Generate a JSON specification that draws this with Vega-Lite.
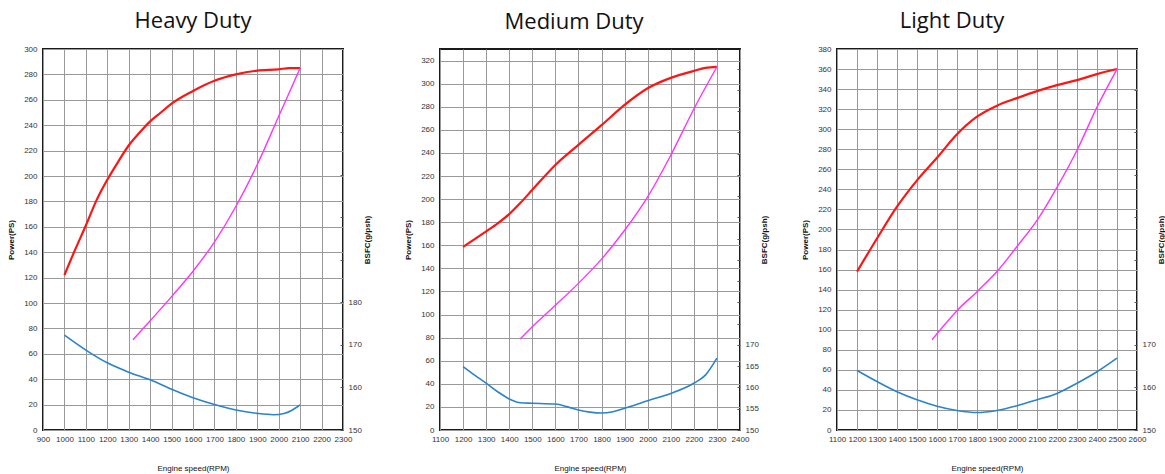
{
  "$schema": "https://vega.github.io/schema/vega-lite/v6.json",
  "padding": {"left": 6, "top": 9, "right": 2, "bottom": 2},
  "background": "white",
  "datasets": {
    "heavy": [
      {"rpm": 1000, "series": "Power", "ps": 122},
      {"rpm": 1050, "series": "Power", "ps": 142},
      {"rpm": 1100, "series": "Power", "ps": 161},
      {"rpm": 1150, "series": "Power", "ps": 181},
      {"rpm": 1200, "series": "Power", "ps": 197},
      {"rpm": 1250, "series": "Power", "ps": 211},
      {"rpm": 1300, "series": "Power", "ps": 224},
      {"rpm": 1350, "series": "Power", "ps": 234},
      {"rpm": 1400, "series": "Power", "ps": 243},
      {"rpm": 1450, "series": "Power", "ps": 250},
      {"rpm": 1500, "series": "Power", "ps": 257},
      {"rpm": 1600, "series": "Power", "ps": 267},
      {"rpm": 1700, "series": "Power", "ps": 275},
      {"rpm": 1800, "series": "Power", "ps": 280},
      {"rpm": 1900, "series": "Power", "ps": 283},
      {"rpm": 2000, "series": "Power", "ps": 284},
      {"rpm": 2050, "series": "Power", "ps": 285},
      {"rpm": 2100, "series": "Power", "ps": 285},
      {"rpm": 1320, "series": "Propeller", "ps": 71},
      {"rpm": 1400, "series": "Propeller", "ps": 86},
      {"rpm": 1500, "series": "Propeller", "ps": 105},
      {"rpm": 1600, "series": "Propeller", "ps": 125},
      {"rpm": 1700, "series": "Propeller", "ps": 148},
      {"rpm": 1800, "series": "Propeller", "ps": 176},
      {"rpm": 1900, "series": "Propeller", "ps": 209},
      {"rpm": 2000, "series": "Propeller", "ps": 247},
      {"rpm": 2050, "series": "Propeller", "ps": 266},
      {"rpm": 2100, "series": "Propeller", "ps": 285},
      {"rpm": 1000, "series": "BSFC", "bsfc": 172.3},
      {"rpm": 1100, "series": "BSFC", "bsfc": 168.8},
      {"rpm": 1200, "series": "BSFC", "bsfc": 165.8},
      {"rpm": 1300, "series": "BSFC", "bsfc": 163.6},
      {"rpm": 1400, "series": "BSFC", "bsfc": 161.8},
      {"rpm": 1500, "series": "BSFC", "bsfc": 159.6},
      {"rpm": 1600, "series": "BSFC", "bsfc": 157.6},
      {"rpm": 1700, "series": "BSFC", "bsfc": 156.0},
      {"rpm": 1800, "series": "BSFC", "bsfc": 154.7},
      {"rpm": 1900, "series": "BSFC", "bsfc": 153.9},
      {"rpm": 1975, "series": "BSFC", "bsfc": 153.6},
      {"rpm": 2025, "series": "BSFC", "bsfc": 153.9},
      {"rpm": 2060, "series": "BSFC", "bsfc": 154.6},
      {"rpm": 2100, "series": "BSFC", "bsfc": 155.9}
    ],
    "medium": [
      {"rpm": 1200, "series": "Power", "ps": 158.6},
      {"rpm": 1300, "series": "Power", "ps": 172},
      {"rpm": 1350, "series": "Power", "ps": 179},
      {"rpm": 1400, "series": "Power", "ps": 187},
      {"rpm": 1450, "series": "Power", "ps": 197},
      {"rpm": 1500, "series": "Power", "ps": 208},
      {"rpm": 1600, "series": "Power", "ps": 229.6},
      {"rpm": 1700, "series": "Power", "ps": 247},
      {"rpm": 1800, "series": "Power", "ps": 264},
      {"rpm": 1900, "series": "Power", "ps": 281.6},
      {"rpm": 2000, "series": "Power", "ps": 296},
      {"rpm": 2100, "series": "Power", "ps": 305},
      {"rpm": 2200, "series": "Power", "ps": 311},
      {"rpm": 2250, "series": "Power", "ps": 313.6},
      {"rpm": 2300, "series": "Power", "ps": 314.5},
      {"rpm": 1448, "series": "Propeller", "ps": 79},
      {"rpm": 1500, "series": "Propeller", "ps": 89.5},
      {"rpm": 1600, "series": "Propeller", "ps": 108},
      {"rpm": 1700, "series": "Propeller", "ps": 127},
      {"rpm": 1800, "series": "Propeller", "ps": 148},
      {"rpm": 1900, "series": "Propeller", "ps": 173},
      {"rpm": 2000, "series": "Propeller", "ps": 202},
      {"rpm": 2100, "series": "Propeller", "ps": 238},
      {"rpm": 2200, "series": "Propeller", "ps": 278},
      {"rpm": 2300, "series": "Propeller", "ps": 314.5},
      {"rpm": 1200, "series": "BSFC", "bsfc": 164.9},
      {"rpm": 1250, "series": "BSFC", "bsfc": 162.9},
      {"rpm": 1300, "series": "BSFC", "bsfc": 161.0},
      {"rpm": 1350, "series": "BSFC", "bsfc": 159.0},
      {"rpm": 1400, "series": "BSFC", "bsfc": 157.3},
      {"rpm": 1450, "series": "BSFC", "bsfc": 156.4},
      {"rpm": 1500, "series": "BSFC", "bsfc": 156.3},
      {"rpm": 1600, "series": "BSFC", "bsfc": 156.1},
      {"rpm": 1650, "series": "BSFC", "bsfc": 155.5},
      {"rpm": 1700, "series": "BSFC", "bsfc": 154.7},
      {"rpm": 1750, "series": "BSFC", "bsfc": 154.2},
      {"rpm": 1800, "series": "BSFC", "bsfc": 154.0},
      {"rpm": 1850, "series": "BSFC", "bsfc": 154.3},
      {"rpm": 1900, "series": "BSFC", "bsfc": 155.1},
      {"rpm": 2000, "series": "BSFC", "bsfc": 156.9},
      {"rpm": 2100, "series": "BSFC", "bsfc": 158.6},
      {"rpm": 2200, "series": "BSFC", "bsfc": 161.0},
      {"rpm": 2250, "series": "BSFC", "bsfc": 162.9},
      {"rpm": 2300, "series": "BSFC", "bsfc": 166.9}
    ],
    "light": [
      {"rpm": 1200, "series": "Power", "ps": 158},
      {"rpm": 1300, "series": "Power", "ps": 191},
      {"rpm": 1400, "series": "Power", "ps": 222.7},
      {"rpm": 1500, "series": "Power", "ps": 249},
      {"rpm": 1600, "series": "Power", "ps": 271.5},
      {"rpm": 1700, "series": "Power", "ps": 295},
      {"rpm": 1800, "series": "Power", "ps": 312.5},
      {"rpm": 1900, "series": "Power", "ps": 323.5},
      {"rpm": 2000, "series": "Power", "ps": 331},
      {"rpm": 2100, "series": "Power", "ps": 338},
      {"rpm": 2200, "series": "Power", "ps": 344},
      {"rpm": 2300, "series": "Power", "ps": 349},
      {"rpm": 2400, "series": "Power", "ps": 355},
      {"rpm": 2500, "series": "Power", "ps": 360},
      {"rpm": 1575, "series": "Propeller", "ps": 90},
      {"rpm": 1600, "series": "Propeller", "ps": 96},
      {"rpm": 1700, "series": "Propeller", "ps": 119},
      {"rpm": 1800, "series": "Propeller", "ps": 138},
      {"rpm": 1900, "series": "Propeller", "ps": 158},
      {"rpm": 2000, "series": "Propeller", "ps": 183},
      {"rpm": 2100, "series": "Propeller", "ps": 209},
      {"rpm": 2200, "series": "Propeller", "ps": 242},
      {"rpm": 2300, "series": "Propeller", "ps": 279},
      {"rpm": 2400, "series": "Propeller", "ps": 322},
      {"rpm": 2500, "series": "Propeller", "ps": 360},
      {"rpm": 1200, "series": "BSFC", "bsfc": 164.0},
      {"rpm": 1300, "series": "BSFC", "bsfc": 161.4},
      {"rpm": 1400, "series": "BSFC", "bsfc": 159.0},
      {"rpm": 1500, "series": "BSFC", "bsfc": 157.1},
      {"rpm": 1600, "series": "BSFC", "bsfc": 155.6},
      {"rpm": 1700, "series": "BSFC", "bsfc": 154.6},
      {"rpm": 1800, "series": "BSFC", "bsfc": 154.1},
      {"rpm": 1900, "series": "BSFC", "bsfc": 154.6},
      {"rpm": 2000, "series": "BSFC", "bsfc": 155.7},
      {"rpm": 2100, "series": "BSFC", "bsfc": 157.1},
      {"rpm": 2200, "series": "BSFC", "bsfc": 158.6},
      {"rpm": 2300, "series": "BSFC", "bsfc": 161.0},
      {"rpm": 2400, "series": "BSFC", "bsfc": 163.7},
      {"rpm": 2500, "series": "BSFC", "bsfc": 166.9}
    ]
  },
  "config": {
    "font": "Liberation Sans",
    "view": {"stroke": "#1a1a1a", "strokeWidth": 2},
    "title": {"font": "Open Sans", "fontSize": 22, "fontWeight": "normal", "color": "#111111", "offset": 12, "anchor": "middle"},
    "axis": {
      "labelFont": "Liberation Sans",
      "labelFontSize": 8,
      "labelColor": "#333333",
      "labelOverlap": false,
      "labelFlush": false,
      "format": "d",
      "titleFont": "Liberation Sans",
      "titleFontSize": 8,
      "titleColor": "#111111",
      "domain": false,
      "ticks": false,
      "gridColor": "#9a9a9a",
      "gridWidth": 1
    },
    "axisX": {"labelPadding": 5, "titlePadding": 21, "titleFontWeight": "normal", "labelOverlap": false, "labelSeparation": 0},
    "axisLeft": {"labelPadding": 6, "titlePadding": 8, "titleFontWeight": "bold"},
    "axisRight": {"grid": false, "ticks": true, "tickSize": -3, "tickColor": "#555555", "labelPadding": 8, "titlePadding": 10, "titleAngle": 270, "titleFontWeight": "bold"}
  },
  "bounds": "flush",
  "spacing": 97,
  "hconcat": [
    {
      "width": 300,
      "height": 381,
      "title": {"text": "Heavy Duty"},
      "data": {"name": "heavy"},
      "encoding": {
        "x": {"field": "rpm", "type": "quantitative", "scale": {"domain": [900, 2300], "nice": false}, "axis": {"title": "Engine speed(RPM)", "format": "d", "labelOverlap": false, "values": [900, 1000, 1100, 1200, 1300, 1400, 1500, 1600, 1700, 1800, 1900, 2000, 2100, 2200, 2300]}}
      },
      "layer": [
        {
          "transform": [{"filter": "datum.series !== 'BSFC'"}],
          "mark": {"type": "line", "interpolate": "monotone"},
          "encoding": {
            "y": {"field": "ps", "type": "quantitative", "scale": {"domain": [0, 300], "nice": false}, "axis": {"title": "Power(PS)", "values": [0, 20, 40, 60, 80, 100, 120, 140, 160, 180, 200, 220, 240, 260, 280, 300]}},
            "color": {"field": "series", "type": "nominal", "scale": {"domain": ["Power", "Propeller"], "range": ["#ff1414", "#ff33ff"]}, "legend": null},
            "strokeWidth": {"field": "series", "type": "nominal", "scale": {"domain": ["Power", "Propeller"], "range": [2.2, 1.4]}, "legend": null}
          }
        },
        {
          "transform": [{"filter": "datum.series === 'BSFC'"}],
          "mark": {"type": "line", "interpolate": "monotone", "color": "#2b83cc", "strokeWidth": 1.6},
          "encoding": {
            "y": {"field": "bsfc", "type": "quantitative", "scale": {"domain": [150, 239.6], "nice": false}, "axis": {"orient": "right", "title": "BSFC(g/psh)", "values": [150, 160, 170, 180, 190, 200, 210, 220, 230], "labelExpr": "datum.value <= 180 ? datum.label : ''"}}
          }
        }
      ],
      "resolve": {"scale": {"y": "independent"}}
    },
    {
      "width": 300,
      "height": 381,
      "title": {"text": "Medium Duty", "dx": -16, "dy": -3},
      "data": {"name": "medium"},
      "encoding": {
        "x": {"field": "rpm", "type": "quantitative", "scale": {"domain": [1100, 2400], "nice": false}, "axis": {"title": "Engine speed(RPM)", "format": "d", "labelOverlap": false, "values": [1100, 1200, 1300, 1400, 1500, 1600, 1700, 1800, 1900, 2000, 2100, 2200, 2300, 2400]}}
      },
      "layer": [
        {
          "transform": [{"filter": "datum.series !== 'BSFC'"}],
          "mark": {"type": "line", "interpolate": "monotone"},
          "encoding": {
            "y": {"field": "ps", "type": "quantitative", "scale": {"domain": [0, 330], "nice": false}, "axis": {"title": "Power(PS)", "values": [0, 20, 40, 60, 80, 100, 120, 140, 160, 180, 200, 220, 240, 260, 280, 300, 320]}},
            "color": {"field": "series", "type": "nominal", "scale": {"domain": ["Power", "Propeller"], "range": ["#ff1414", "#ff33ff"]}, "legend": null},
            "strokeWidth": {"field": "series", "type": "nominal", "scale": {"domain": ["Power", "Propeller"], "range": [2.2, 1.4]}, "legend": null}
          }
        },
        {
          "transform": [{"filter": "datum.series === 'BSFC'"}],
          "mark": {"type": "line", "interpolate": "monotone", "color": "#2b83cc", "strokeWidth": 1.6},
          "encoding": {
            "y": {"field": "bsfc", "type": "quantitative", "scale": {"domain": [150, 239.6], "nice": false}, "axis": {"orient": "right", "title": "BSFC(g/psh)", "values": [150, 155, 160, 165, 170, 175, 180, 185, 190, 195, 200, 205, 210, 215, 220, 225, 230, 235], "labelExpr": "datum.value <= 170 ? datum.label : ''"}}
          }
        }
      ],
      "resolve": {"scale": {"y": "independent"}}
    },
    {
      "width": 300,
      "height": 381,
      "title": {"text": "Light Duty", "dx": -35},
      "data": {"name": "light"},
      "encoding": {
        "x": {"field": "rpm", "type": "quantitative", "scale": {"domain": [1100, 2600], "nice": false}, "axis": {"title": "Engine speed(RPM)", "format": "d", "labelOverlap": false, "values": [1100, 1200, 1300, 1400, 1500, 1600, 1700, 1800, 1900, 2000, 2100, 2200, 2300, 2400, 2500, 2600]}}
      },
      "layer": [
        {
          "transform": [{"filter": "datum.series !== 'BSFC'"}],
          "mark": {"type": "line", "interpolate": "monotone"},
          "encoding": {
            "y": {"field": "ps", "type": "quantitative", "scale": {"domain": [0, 380], "nice": false}, "axis": {"title": "Power(PS)", "values": [0, 20, 40, 60, 80, 100, 120, 140, 160, 180, 200, 220, 240, 260, 280, 300, 320, 340, 360, 380]}},
            "color": {"field": "series", "type": "nominal", "scale": {"domain": ["Power", "Propeller"], "range": ["#ff1414", "#ff33ff"]}, "legend": null},
            "strokeWidth": {"field": "series", "type": "nominal", "scale": {"domain": ["Power", "Propeller"], "range": [2.2, 1.4]}, "legend": null}
          }
        },
        {
          "transform": [{"filter": "datum.series === 'BSFC'"}],
          "mark": {"type": "line", "interpolate": "monotone", "color": "#2b83cc", "strokeWidth": 1.6},
          "encoding": {
            "y": {"field": "bsfc", "type": "quantitative", "scale": {"domain": [150, 239.6], "nice": false}, "axis": {"orient": "right", "title": "BSFC(g/psh)", "values": [150, 160, 170, 180, 190, 200, 210, 220, 230], "labelExpr": "datum.value <= 170 ? datum.label : ''"}}
          }
        }
      ],
      "resolve": {"scale": {"y": "independent"}}
    }
  ]
}
